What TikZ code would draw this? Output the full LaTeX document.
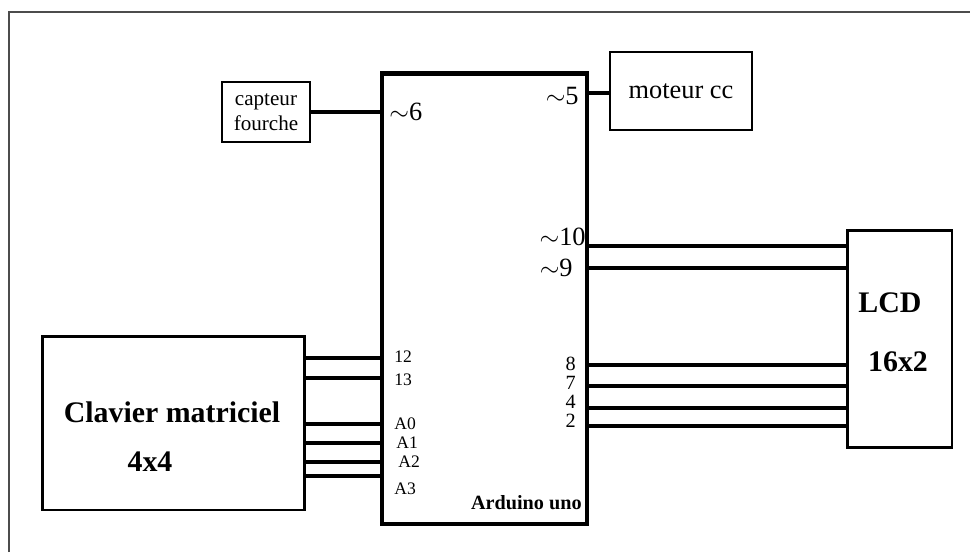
\documentclass[tikz,border=0pt]{standalone}
\usepackage{fontspec}
\setmainfont{Liberation Serif}
\begin{document}
\begin{tikzpicture}[x=0.02cm,y=-0.02cm,
                board/.style={
                    draw=black,
                    line width=2.8pt,
                    rectangle,
                    minimum width=4.1cm,
                    minimum height=9.02cm,
                    inner sep=0pt
                },
                thickbox/.style={
                    draw=black,
                    line width=1.7pt,
                    rectangle,
                    inner sep=0pt
                },
                thinbox/.style={
                    draw=black,
                    line width=0.8pt,
                    rectangle,
                    inner sep=0pt,
                    align=center
                },
                bigpin/.style={
                    inner sep=0pt,
                    font=\fontsize{15}{15}\selectfont
                },
                midpin/.style={
                    inner sep=0pt,
                    font=\fontsize{11.5}{11.5}\selectfont
                },
                smallpin/.style={
                    inner sep=0pt,
                    font=\fontsize{10}{10}\selectfont
                },
                title/.style={
                    inner sep=0pt,
                    font=\bfseries\fontsize{17}{17}\selectfont
                },
                wire/.style={
                    line width=1.8pt
                }
            ]
    \useasboundingbox (0,0) rectangle (970,552);
    % outer frame
    \draw[gray!60!black, line width=0.9pt] (9,552) |- (970,12);

    \node[board] (ard) at (484.5,298.5) {};
    \node[thinbox, minimum width=1.76cm, minimum height=1.2cm,
          font=\fontsize{12}{14}\selectfont] (capt) at (266,112) {capteur\\fourche};
    \node[thinbox, minimum width=2.84cm, minimum height=1.56cm,
          font=\fontsize{15}{15}\selectfont] (mot) at (681,91) {moteur cc};
    \node[thickbox, minimum width=2.1cm, minimum height=4.36cm] (lcd) at (899.5,339) {};
    \node[thickbox, minimum width=5.26cm, minimum height=3.48cm] (clav) at (173.5,423) {};

    % texts in the boxes
    \node[title] (lcdname) at (890,303) {LCD};
    \node[title] (lcdsize) at (898,362) {16x2};
    \node[title] (clavname) at (172,412) {Clavier matriciel};
    \node[title] (clavsize) at (150,462) {4x4};
    \node[inner sep=0pt, font=\bfseries\fontsize{11.5}{11.5}\selectfont, anchor=east]
        (ardname) at (582,503) {Arduino uno};

    % pins
    \node[bigpin, anchor=west] (p6) at (389,112) {$\sim$6};
    \node[bigpin, anchor=east] (p5) at (579,96) {$\sim$5};
    \node[bigpin, anchor=east] (p10) at (586,237) {$\sim$10};
    \node[bigpin, anchor=east] (p9) at (573,268) {$\sim$9};
    \node[midpin, anchor=east] (p8) at (576,364) {8};
    \node[midpin, anchor=east] (p7) at (576,383) {7};
    \node[midpin, anchor=east] (p4) at (576,402) {4};
    \node[midpin, anchor=east] (p2) at (576,421) {2};
    \node[smallpin, anchor=west] (p12) at (394,357) {12};
    \node[smallpin, anchor=west] (p13) at (394,380) {13};
    \node[smallpin, anchor=west] (pa0) at (394,424) {A0};
    \node[smallpin, anchor=west] (pa1) at (396,443) {A1};
    \node[smallpin, anchor=west] (pa2) at (398,462) {A2};
    \node[smallpin, anchor=west] (pa3) at (394,489) {A3};

    % connections
    \draw[line width=2.2pt] (capt) -- (capt -| ard.west);
    \draw[wire] (ard.east |- 0,93) -- (mot.west |- 0,93);
    \foreach \y in {246,268,365,386,408,426}
        \draw[wire] (ard.east |- 0,\y) -- (lcd.west |- 0,\y);
    \foreach \y in {358,378,424,443,462,476}
        \draw[wire] (clav.east |- 0,\y) -- (ard.west |- 0,\y);
\end{tikzpicture}
\end{document}
